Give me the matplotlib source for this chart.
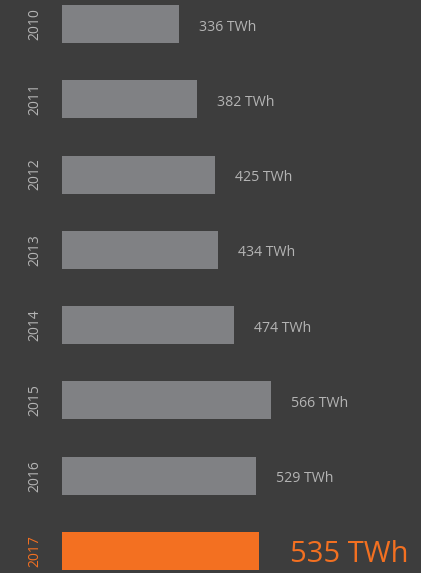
import matplotlib.pyplot as plt
from matplotlib import transforms

years = ['2010', '2011', '2012', '2013', '2014', '2015', '2016', '2017']
values = [336, 382, 425, 434, 474, 566, 529, 535]
labels = ['336 TWh', '382 TWh', '425 TWh', '434 TWh', '474 TWh', '566 TWh', '529 TWh', '535 TWh']

bg = '#3d3d3d'
grey = '#808184'
orange = '#f37021'
text_grey = '#b4b4b4'

plt.rcParams['font.family'] = ['Open Sans', 'DejaVu Sans']

fig = plt.figure(figsize=(4.21, 5.73), dpi=100, facecolor=bg)
ax = fig.add_axes([62 / 421, 0, 1 - 62 / 421, 1])
ax.set_facecolor(bg)

colors = [grey] * (len(years) - 1) + [orange]
pos = list(range(len(years)))
ax.barh(pos, values, height=0.505, color=colors)

ax.set_xlim(43.5, 941)
ax.set_ylim(7.292, -0.319)

for i, (v, lab) in enumerate(zip(values, labels)):
    last = i == len(years) - 1
    off = transforms.offset_copy(ax.transData, fig=fig, x=20 if not last else 31, y=-3, units='dots')
    ax.text(v, i, lab, transform=off, ha='left', va='center',
            color=orange if last else text_grey,
            fontsize=21 if last else 10.2)

ax.set_yticks(pos)
ax.set_yticklabels(years, rotation=90, va='center', fontsize=10)
for t, c in zip(ax.get_yticklabels(), colors):
    t.set_color(orange if c == orange else text_grey)
ax.tick_params(axis='y', length=0, pad=14)
ax.set_xticks([])
for s in ax.spines.values():
    s.set_visible(False)

fig.savefig('out.png', dpi=100, facecolor=bg)
